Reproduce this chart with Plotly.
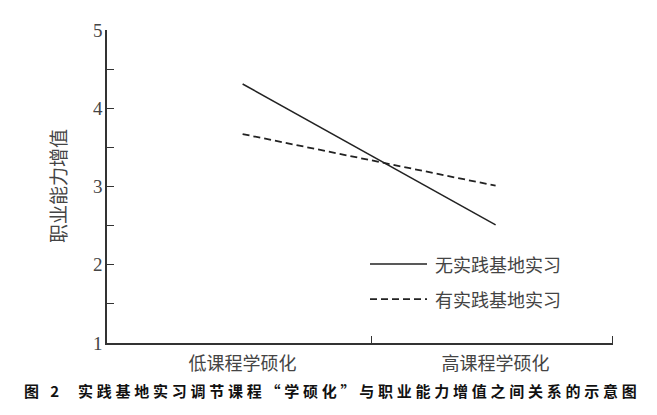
import plotly.graph_objects as go

# ---- data ----
categories = ["低课程学硕化", "高课程学硕化"]
cat_pos = [0, 1]
no_base = [4.31, 2.51]      # 无实践基地实习
with_base = [3.67, 3.01]    # 有实践基地实习
series_names = ["无实践基地实习", "有实践基地实习"]
y_ticks = [1, 2, 3, 4, 5]
y_title = "职业能力增值"
caption_num = "图\u2002\u20052"
caption_text = "实践基地实习调节课程“学硕化”与职业能力增值之间关系的示意图"

# the page body has an 8px default margin, so the figure is shrunk by it
OFF = 8
W, H = 657 - OFF, 415 - OFF
L, R, T, B = 107 - OFF, 613 - OFF, 22 - OFF, 343 - OFF  # plot area in figure pixels

def px(x):  # x in window pixels -> paper fraction
    return (x - OFF - L) / (R - L)

def py(y):
    return (B - (y - OFF)) / (B - T)

serif = "Liberation Serif, serif"
cjk = "Noto Sans CJK SC, sans-serif"
line_col = "#222222"
text_col = "#444444"

fig = go.Figure()
fig.add_trace(go.Scatter(x=cat_pos, y=no_base, mode="lines", name=series_names[0],
                         line=dict(color=line_col, width=1.5), showlegend=False))
fig.add_trace(go.Scatter(x=cat_pos, y=with_base, mode="lines", name=series_names[1],
                         line=dict(color=line_col, width=1.8, dash="7px,4px"), showlegend=False))

x_lo, x_hi = -0.536, 1.464

fig.update_layout(
    width=W, height=H,
    margin=dict(l=L, r=W - R, t=T, b=H - B, pad=0),
    paper_bgcolor="white", plot_bgcolor="white",
    showlegend=False,
    xaxis=dict(
        range=[x_lo, x_hi], tickmode="array", tickvals=cat_pos, ticktext=categories,
        ticks="", showgrid=False, zeroline=False,
        showline=True, linecolor="#333333", linewidth=1.5,
        tickfont=dict(family=cjk, size=18, color=text_col),
        minor=dict(tickmode="array", tickvals=[0.508, 1.4625], ticks="inside",
                   ticklen=7, tickwidth=1.2, tickcolor="#333333"),
        ticklabelstandoff=4,
    ),
    yaxis=dict(
        range=[1, 5], tickmode="array", tickvals=y_ticks,
        ticks="inside", ticklen=7, tickwidth=1.2, tickcolor="#333333",
        showgrid=False, zeroline=False,
        showline=True, linecolor="#333333", linewidth=1.5,
        tickfont=dict(family=serif, size=19, color=text_col),
        minor=dict(dtick=0.5, ticks="inside", ticklen=7, tickwidth=1.2,
                   tickcolor="#333333"),
        ticklabelstandoff=-1,
    ),
)

# y axis title
fig.add_annotation(text=y_title, textangle=-90, xref="paper", yref="paper",
                   x=px(57), y=py(182), xanchor="center", yanchor="middle",
                   showarrow=False, font=dict(family=cjk, size=19, color=text_col))

# legend (manual, to match sample length)
leg_y = [262, 298]
dashes = ["solid", "7px,4px"]
for name, ly, d in zip(series_names, leg_y, dashes):
    fig.add_shape(type="line", xref="paper", yref="paper",
                  x0=px(370), x1=px(427), y0=py(ly), y1=py(ly),
                  line=dict(color=line_col, width=1.6, dash=d))
    fig.add_annotation(text=name, xref="paper", yref="paper",
                       x=px(433), y=py(ly), xanchor="left", yanchor="middle",
                       showarrow=False, font=dict(family=cjk, size=18, color=text_col))

# caption
sp = "\u2005"
fig.add_annotation(text="<b>" + caption_num + "</b>",
                   xref="paper", yref="paper", x=px(22), y=py(392),
                   xanchor="left", yanchor="middle", showarrow=False,
                   font=dict(family=cjk, size=15, color="#111111"))
fig.add_annotation(text="<b>" + sp.join(list(caption_text)) + "</b>",
                   xref="paper", yref="paper", x=px(76), y=py(392),
                   xanchor="left", yanchor="middle", showarrow=False,
                   font=dict(family=cjk, size=15, color="#111111"))

fig.write_html("out.html")
